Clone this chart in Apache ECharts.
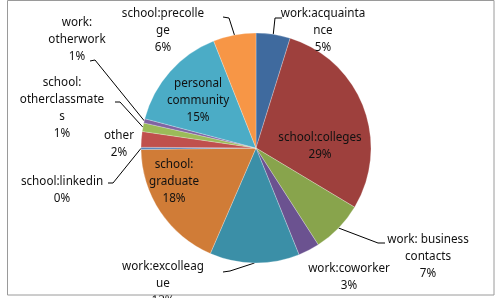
<!DOCTYPE html>
<html>
<head>
<meta charset="utf-8">
<script src="https://cdn.jsdelivr.net/npm/echarts@6/dist/echarts.min.js"></script>
<style>
  html, body { margin: 0; padding: 0; background: #fff; }
  #main { width: 496px; height: 298px; }
</style>
</head>
<body>
<div id="main"></div>
<script>
  // 数据
  const categories = ['work:acquaintance', 'school:colleges', 'work: business contacts', 'work:coworker',
    'work:excolleague', 'school:graduate', 'school:linkedin', 'other', 'school:otherclassmates',
    'work:otherwork', 'personal community', 'school:precollege'];
  const shares = [4.8, 28.8, 7.3, 3.0, 12.6, 18.3, 0.3, 2.2, 1.2, 0.6, 14.9, 6.0];
  // Excel 换行后的标签文字
  const labelTexts = ['work:acquainta\nnce', 'school:colleges', 'work: business\ncontacts', 'work:coworker',
    'work:excolleag\nue', 'school:\ngraduate', 'school:linkedin', 'other', 'school:\notherclassmate\ns',
    'work:\notherwork', 'personal\ncommunity', 'school:precolle\nge'];
  const colors = ['#3f6a9e', '#9e403d', '#88a44c', '#6b5290', '#3b8fa7', '#d07c37',
    '#4f81bd', '#c0504d', '#9bbb59', '#8064a2', '#4bacc6', '#f79646'];

  // 标签位置（文字中心）和引导线折点
  const labelPos = {
    'work:acquaintance': { x: 323, y: 31, line: [[275, 18], [282, 18]] },
    'school:colleges': { x: 320, y: 146 },
    'work: business contacts': { x: 428, y: 257, line: [[378, 243], [385, 243]] },
    'work:coworker': { x: 349, y: 277 },
    'work:excolleague': { x: 163, y: 284, line: [[230, 271], [223, 272]] },
    'school:graduate': { x: 174, y: 182 },
    'school:linkedin': { x: 62, y: 190, line: [[113, 183], [108, 183]] },
    'other': { x: 119, y: 144 },
    'school:otherclassmates': { x: 62, y: 108, line: [[120, 102], [115, 102]] },
    'work:otherwork': { x: 77, y: 40, line: [[95, 60], [90, 61]] },
    'personal community': { x: 198, y: 101 },
    'school:precollege': { x: 163, y: 31, line: [[229, 18], [223, 17]] }
  };

  const chart = echarts.init(document.getElementById('main'));

  const seriesData = categories.map((name, i) => ({
    name: name,
    value: shares[i],
    labelLine: { show: !!labelPos[name].line }
  }));

  const option = {
    color: colors,
    animation: false,
    graphic: [{
      type: 'rect',
      shape: { x: 7.5, y: 0.5, width: 486.5, height: 294.5 },
      style: { fill: 'none', stroke: '#9a9a9a', lineWidth: 1 },
      z: 100
    }],
    series: [{
      type: 'pie',
      center: [256, 148],
      radius: 115,
      startAngle: 90,
      avoidLabelOverlap: false,
      data: seriesData,
      itemStyle: { borderColor: 'rgba(255,255,255,0.5)', borderWidth: 0.5 },
      label: {
        show: true,
        position: 'outside',
        fontFamily: 'Noto Sans',
        fontSize: 11.7,
        lineHeight: 17,
        color: '#111',
        align: 'center',
        formatter: (p) => labelTexts[p.dataIndex] + '\n' + Math.round(p.percent) + '%'
      },
      labelLine: {
        lineStyle: { color: '#000', width: 1 },
        length: 10,
        length2: 10
      },
      labelLayout: (params) => {
        const pos = labelPos[categories[params.dataIndex]];
        const out = { x: pos.x, y: pos.y, align: 'center', verticalAlign: 'middle' };
        if (pos.line && params.labelLinePoints) {
          out.labelLinePoints = [params.labelLinePoints[0], pos.line[0], pos.line[1]];
        }
        return out;
      }
    }]
  };

  chart.setOption(option);
</script>
</body>
</html>
